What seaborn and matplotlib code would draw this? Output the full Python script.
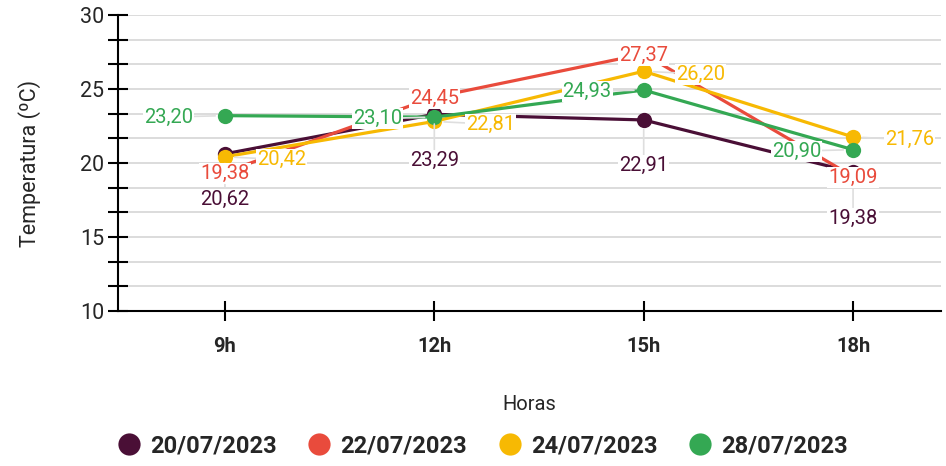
import matplotlib
matplotlib.use("Agg")
import matplotlib.pyplot as plt
import seaborn as sns
import pandas as pd

horas = ["9h", "12h", "15h", "18h"]
fechas = ["20/07/2023", "22/07/2023", "24/07/2023", "28/07/2023"]
temp_20 = [20.62, 23.29, 22.91, 19.38]
temp_22 = [19.38, 24.45, 27.37, 19.09]
temp_24 = [20.42, 22.81, 26.20, 21.76]
temp_28 = [23.20, 23.10, 24.93, 20.90]
colores = ["#4a0f36", "#e94b3c", "#f7b903", "#34a853"]

series = [temp_20, temp_22, temp_24, temp_28]
df = pd.DataFrame(
    [(h, f, v) for f, vals in zip(fechas, series) for h, v in zip(horas, vals)],
    columns=["Hora", "Fecha", "Temp"],
)

sns.set_theme(style="white")
plt.rcParams["font.family"] = ["Roboto", "DejaVu Sans"]

fig = plt.figure(figsize=(9.46, 4.66), dpi=100)
ax = fig.add_axes([0.1247, 0.3326, 0.870, 0.6352])

# light horizontal grid at every tick (major + minor)
ax.set_ylim(10, 30)
major = [10, 15, 20, 25, 30]
minor = [10 + k * 5 / 3 for k in range(13) if k % 3]
ax.set_yticks(major)
ax.set_yticks(minor, minor=True)
for y in major + minor:
    ax.axhline(y, color="#dcdcdc", lw=1.4, zorder=0)

sns.lineplot(
    data=df, x="Hora", y="Temp", hue="Fecha", palette=colores, sort=False,
    marker="o", markersize=11, markeredgewidth=0, linewidth=2.3, ax=ax,
    legend=False, zorder=3,
)

ax.set_xlim(-0.511, 3.42)

# value labels: dark below, red centred, yellow right, green left
placement = [
    dict(xytext=(0, -33), ha="center", va="center"),
    dict(xytext=(0, -1), ha="center", va="center"),
    dict(xytext=(23, -2), ha="left", va="center"),
    dict(xytext=(-23, -1), ha="right", va="center"),
]
for vals, col, pl in zip(series, colores, placement):
    for i, v in enumerate(vals):
        ax.annotate(
            f"{v:.2f}".replace(".", ","), xy=(i, v), textcoords="offset points",
            color=col, fontsize=14.5, zorder=5,
            bbox=dict(boxstyle="square,pad=0.05", fc="white", ec="none"),
            arrowprops=dict(arrowstyle="-", color="#dedede", lw=1.2,
                            shrinkA=0, shrinkB=7),
            **pl,
        )

for s in ["top", "right"]:
    ax.spines[s].set_visible(False)
for s in ["left", "bottom"]:
    ax.spines[s].set_color("black")
    ax.spines[s].set_linewidth(1.5)

ax.tick_params(axis="y", which="both", direction="inout", length=14, width=1.5,
               color="black", labelsize=15.5, pad=3, left=True)
ax.tick_params(axis="x", direction="inout", length=14, width=1.5,
               color="black", labelsize=14.5, pad=12, bottom=True)
for t in ax.get_xticklabels():
    t.set_fontweight("bold")

ax.set_xlabel("Horas", fontsize=14.5, labelpad=28)
ax.set_ylabel("Temperatura (ºC)", fontsize=15.5, labelpad=28)

handles = [
    plt.Line2D([], [], marker="o", linestyle="none", markersize=16,
               markerfacecolor=c, markeredgewidth=0)
    for c in colores
]
fig.legend(
    handles, fechas, loc="center", bbox_to_anchor=(0.51, 0.043), ncol=4,
    frameon=False, prop=dict(weight="bold", size=17), handletextpad=0.4,
    columnspacing=1.3, handlelength=1.0,
)

fig.savefig("out.png", dpi=100, facecolor="white")
